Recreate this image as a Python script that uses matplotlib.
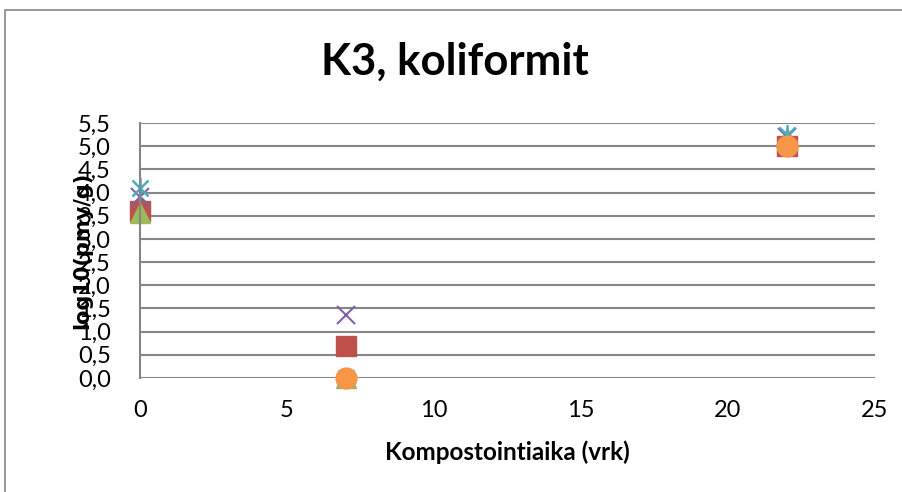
import numpy as np
import matplotlib
matplotlib.use("Agg")
import matplotlib.pyplot as plt
from matplotlib.path import Path

# sampling days
days = [0, 7, 22]

# log10 counts per sample series
s1 = [3.70, 0.0, 5.00]        # blue diamond (hidden under others)
s2 = [3.60, 0.70, 5.00]       # red square
s3 = [3.55, 0.0, 5.17]        # green triangle
s4 = [3.90, 1.35, 5.20]       # purple x
s5 = [4.10, 0.0, 5.25]        # aqua star
s6 = [np.nan, 0.0, 5.00]      # orange circle

yticks = np.arange(0, 5.51, 0.5)
xticks = [0, 5, 10, 15, 20, 25]

# Excel-style star: x plus vertical bar
star = Path([(-1, -1), (1, 1), (-1, 1), (1, -1), (0, -1.3), (0, 1.3)],
            [Path.MOVETO, Path.LINETO, Path.MOVETO, Path.LINETO, Path.MOVETO, Path.LINETO])

fig = plt.figure(figsize=(9.03, 4.92), dpi=100)
ax = fig.add_axes([0.155, 0.2317, 0.814, 0.5183])

ax.plot(days, s1, ls="none", marker="D", ms=10, color="#4F81BD", clip_on=False)
ax.plot(days, s2, ls="none", marker="s", ms=14, color="#C0504D", clip_on=False)
ax.plot(days, s3, ls="none", marker="^", ms=15, color="#9BBB59", clip_on=False)
ax.plot(days, s4, ls="none", marker="x", ms=13, mew=1.5, color="#8064A2", clip_on=False)
ax.plot(days, s5, ls="none", marker=star, ms=15, mew=1.8, color="#4BACC6", clip_on=False)
ax.plot(days, s6, ls="none", marker="o", ms=15, color="#F79646", clip_on=False)

ax.set_xlim(0, 25)
ax.set_ylim(0, 5.5)
ax.set_xticks(xticks)
ax.set_yticks(yticks)
ax.set_yticklabels([f"{v:.1f}".replace(".", ",") for v in yticks])
ax.tick_params(length=0, labelsize=17, pad=21)
ax.tick_params(axis="x", pad=16)
for lab in ax.get_xticklabels() + ax.get_yticklabels():
    lab.set_family("Lato")

ax.yaxis.grid(True, color="#868686", lw=1.5)
ax.set_axisbelow(True)
for side in ["top", "right", "bottom"]:
    ax.spines[side].set_visible(False)
ax.spines["left"].set_color("#868686")
ax.spines["left"].set_linewidth(1.5)

ax.set_xlabel("Kompostointiaika (vrk)", fontsize=17.5, fontweight="bold",
              family="Lato", labelpad=14)
ax.set_ylabel("log10(pmy/g)", fontsize=15, fontweight="bold", family="DejaVu Sans")
ax.yaxis.set_label_coords(-0.065, 0.5)
fig.text(0.504, 0.875, "K3, koliformit", ha="center", va="center", fontsize=31.5,
         fontweight="bold", family="Lato")

# chart border
fig.patches.append(plt.Rectangle((0.006, -0.1), 1.2, 1.08, transform=fig.transFigure,
                                 fill=False, edgecolor="#868686", lw=1.2))

fig.savefig("out.png", dpi=100)
